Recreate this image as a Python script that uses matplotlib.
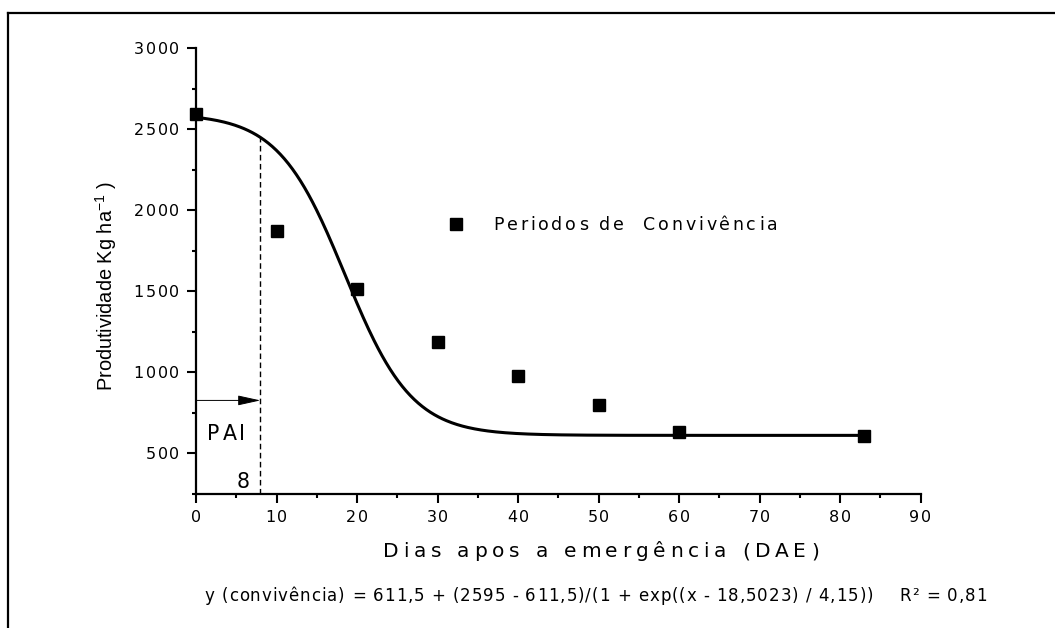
import numpy as np
import matplotlib
matplotlib.use('Agg')
import matplotlib.pyplot as plt
import matplotlib.text as mtext
from matplotlib.lines import Line2D
from matplotlib.ticker import MultipleLocator, FixedLocator
from matplotlib.transforms import IdentityTransform

# ---- data ----
dae = [0, 10, 20, 30, 40, 50, 60, 83]
produtividade = [2595, 1870, 1515, 1190, 975, 800, 631, 607]

# fitted logistic model printed on the chart
y_min_fit = 611.5
y_max_fit = 2595
x50_fit = 18.5023
slope_fit = 4.15
fit_x_end = 83

pai_value = 8
pai_arrow_level = 827

x_ticks = [0, 10, 20, 30, 40, 50, 60, 70, 80, 90]
y_ticks = [500, 1000, 1500, 2000, 2500, 3000]

legend_label = "Periodos de  Convivência"
x_label = "Dias apos a emergência (DAE)"
y_label = "Produtividade Kg ha$^{-1}$ )"
equation = "y (convivência) = 611,5 + (2595 - 611,5)/(1 + exp((x - 18,5023) / 4,15))    R² = 0,81"

WIDE = 'DejaVu Sans'


class SpacedText(mtext.Text):
    """Text drawn with extra letter spacing (tracking), as in the original export."""
    tracking = 0.0  # extra points between characters

    @staticmethod
    def _advance(renderer, ch, fp):
        w2, _, _ = renderer.get_text_width_height_descent('||', fp, ismath=False)
        w3, _, _ = renderer.get_text_width_height_descent('|' + ch + '|', fp, ismath=False)
        return w3 - w2

    def draw(self, renderer):
        if renderer is not None:
            self._renderer = renderer
        if not self.get_visible():
            return
        s = self.get_text()
        if s == '' or self.get_rotation() != 0:
            return super().draw(renderer)
        fp = self.get_fontproperties()
        sp = self.tracking * renderer.points_to_pixels(1.0)
        bbox, info, descent = self._get_layout(renderer)
        _, _, xo, yo = info[0]
        posx, posy = self.get_transform().transform(self.get_unitless_position())
        advs = [self._advance(renderer, ch, fp) for ch in s]
        total = sum(advs) + sp * (len(s) - 1)
        ha = self.get_horizontalalignment()
        if ha == 'center':
            x = posx - total / 2
        elif ha == 'right':
            x = posx - total
        else:
            x = posx
        y = posy + yo
        for ch, a in zip(s, advs):
            if ch != ' ':
                t = mtext.Text(x, y, ch, fontproperties=fp, color=self.get_color(),
                               ha='left', va='baseline', transform=IdentityTransform())
                t.set_figure(self.figure)
                t.draw(renderer)
            x += a + sp


def make_spaced(txt, tracking, family=WIDE):
    txt.set_fontfamily(family)
    txt.__class__ = SpacedText
    txt.tracking = tracking
    return txt


plt.rcParams['font.family'] = ['Liberation Sans', 'DejaVu Sans']
plt.rcParams['mathtext.fontset'] = 'custom'
plt.rcParams['mathtext.rm'] = 'Liberation Sans'
plt.rcParams['mathtext.it'] = 'Liberation Sans'
plt.rcParams['mathtext.default'] = 'regular'

W, H = 1055, 628
fig = plt.figure(figsize=(W / 100, H / 100), dpi=100)
fig.patch.set_facecolor('white')

L, R, T, B = 196, 920.5, 48, 494
ax = fig.add_axes([L / W, 1 - B / H, (R - L) / W, (B - T) / H])
ax.set_xlim(0, 90)
ax.set_ylim(250, 3000)
for s in ['top', 'right']:
    ax.spines[s].set_visible(False)
for s in ['left', 'bottom']:
    ax.spines[s].set_linewidth(1.6)

ax.xaxis.set_major_locator(FixedLocator(x_ticks))
ax.yaxis.set_major_locator(FixedLocator(y_ticks))
ax.xaxis.set_minor_locator(MultipleLocator(5))
ax.yaxis.set_minor_locator(MultipleLocator(250))
ax.tick_params(which='major', length=6.2, width=1.5, labelsize=11.5, pad=5.6)
ax.tick_params(which='minor', length=3, width=1.5)
for tk in ax.xaxis.get_major_ticks() + ax.yaxis.get_major_ticks():
    make_spaced(tk.label1, 1.3)


def logistic(x):
    return y_min_fit + (y_max_fit - y_min_fit) / (1 + np.exp((x - x50_fit) / slope_fit))


xs = np.linspace(0, fit_x_end, 500)
ax.plot(xs, logistic(xs), color='black', lw=2.2, zorder=3)
ax.plot(dae, produtividade, 's', color='black', ms=8, clip_on=False,
        label=legend_label, zorder=4)

# PAI dashed line and arrow
ax.plot([pai_value, pai_value], [250, logistic(pai_value)], color='black',
        lw=1.0, dashes=(4, 2.5))
ax.annotate('', xy=(pai_value, pai_arrow_level), xytext=(0, pai_arrow_level),
            arrowprops=dict(arrowstyle='-|>,head_length=1.0,head_width=0.22',
                            color='black', lw=0.7, shrinkA=0, shrinkB=0,
                            mutation_scale=14))
make_spaced(ax.text(1.4, 580, "PAI", fontsize=14.8, ha='left', va='baseline'), 2.1)
ax.text(5.0, 284, str(pai_value), fontsize=14.8, ha='left', va='baseline',
        fontfamily=WIDE)

ax.set_ylabel(y_label, fontsize=14.4, va='baseline')
ax.yaxis.set_label_coords((113 - L) / (R - L), (B - 286) / (B - T))
ax.set_xlabel(x_label, fontsize=14.5, va='baseline')
ax.xaxis.set_label_coords((601 - L) / (R - L), (B - 557) / (B - T))
make_spaced(ax.xaxis.label, 3.4)

leg = ax.legend(loc='lower left', bbox_to_anchor=(449 / W, 1 - 234 / H),
                bbox_transform=fig.transFigure, frameon=False, fontsize=12.5,
                handlelength=0.85, handletextpad=1.7, borderaxespad=0,
                borderpad=0)
make_spaced(leg.get_texts()[0], 2.0)

eq = fig.text(595.5 / W, 1 - 601 / H, equation, fontsize=12, ha='center', va='baseline')
make_spaced(eq, 0.7)

# outer frame (left and top)
fig.add_artist(Line2D([8 / W, 8 / W], [0, 1 - 13 / H], color='black', lw=1.6,
                      transform=fig.transFigure))
fig.add_artist(Line2D([8 / W, 1], [1 - 13 / H, 1 - 13 / H], color='black', lw=1.6,
                      transform=fig.transFigure))

fig.savefig('out.png', dpi=100)
